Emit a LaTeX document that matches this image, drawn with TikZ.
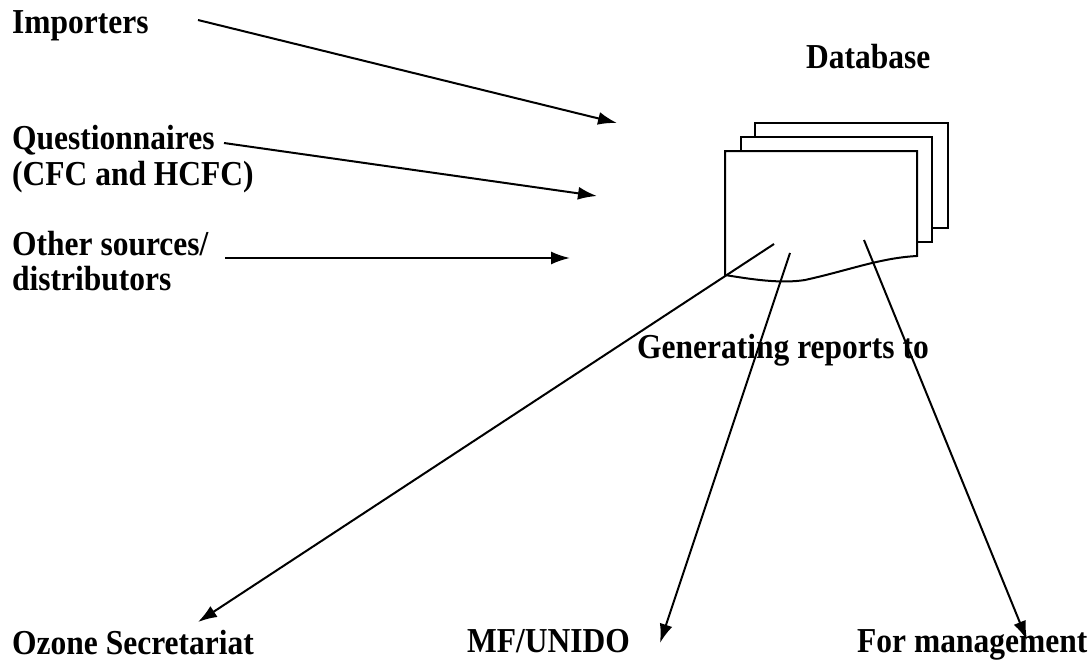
\documentclass[tikz,border=0pt]{standalone}
\usepackage{fontspec}
\setmainfont[FakeStretch=0.9]{Liberation Serif}
\usetikzlibrary{arrows.meta}
\begin{document}
\begin{tikzpicture}[x=1pt,y=-1pt,
  lbl/.style={anchor=base west,inner sep=0pt,font=\fontsize{35}{38}\selectfont\bfseries},
  conn/.style={line width=2pt,-{Latex[length=19pt,width=13pt]}},
  page/.style={line width=2pt,fill=white}]
\useasboundingbox (0,0) rectangle (1092,661);
% labels
\node[lbl] (imp) at (12,34) {Importers};
\node[lbl] (que) at (12,149) {Questionnaires};
\node[lbl] (cfc) at (12,185) {(CFC and HCFC)};
\node[lbl] (oth) at (12,255) {Other sources/};
\node[lbl] (dis) at (12,290) {distributors};
\node[lbl] (db) at (806,68) {Database};
\node[lbl] (gen) at (637,358) {Generating reports to};
\node[lbl] (ozo) at (12,654) {Ozone Secretariat};
\node[lbl] (mf) at (467,652) {MF/UNIDO};
\node[lbl] (fm) at (857,652) {For management};
% database pages
\draw[page] (755,228) -- (755,123) -- (948,123) -- (948,228) -- cycle;
\draw[page] (741,242) -- (741,137) -- (932,137) -- (932,242) -- cycle;
\draw[page] (725,275) -- (725,151) -- (917,151) -- (917,256)
  .. controls (880,258) and (850,270) .. (805,280)
  .. controls (780,284) and (750,279) .. (725,275) -- cycle;
% input connectors
\coordinate (i1s) at (198,20);
\coordinate (i1e) at (617,123);
\coordinate (i2s) at (224,143);
\coordinate (i2e) at (597,196);
\coordinate (i3s) at (225,258);
\coordinate (i3e) at (570,258);
\draw[conn] (i1s) -- (i1e);
\draw[conn] (i2s) -- (i2e);
\draw[conn] (i3s) -- (i3e);
% output connectors
\coordinate (o1s) at (774,244);
\coordinate (o1e) at (198,622);
\coordinate (o2s) at (790,253);
\coordinate (o2e) at (660,643);
\coordinate (o3s) at (864,240);
\coordinate (o3e) at (1027,640);
\draw[conn] (o1s) -- (o1e);
\draw[conn] (o2s) -- (o2e);
\draw[conn] (o3s) -- (o3e);
\end{tikzpicture}
\end{document}
